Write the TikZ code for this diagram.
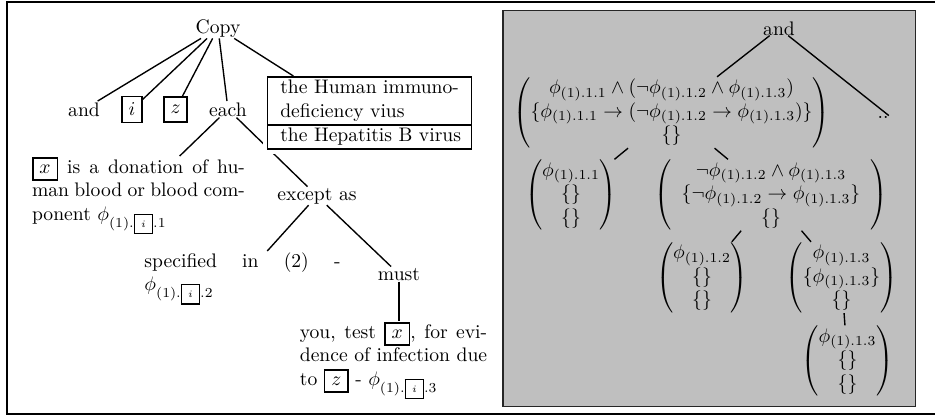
\documentclass[tikz,border=0pt]{standalone}
\usepackage{amsmath}
\usetikzlibrary{shapes.multipart,calc}
\newcommand{\mybox}[1]{\fbox{$#1$}}
\newcommand{\mysbox}[1]{{\setlength{\fboxsep}{2.8pt}\fbox{$\scriptscriptstyle #1$}}}
\setlength{\fboxrule}{0.8pt}
\setlength{\fboxsep}{3pt}
\begin{document}
\begin{tikzpicture}[x=0.51pt,y=-0.51pt,
  edge/.style={line width=0.7pt},
  word/.style={inner sep=0.5pt},
  boxed/.style={draw, line width=0.9pt, inner sep=3.33pt, minimum height=12.7pt},
  para/.style={inner sep=0.5pt, align=justify, anchor=north},
  mat/.style={inner sep=0pt},
  splitbox/.style={draw, line width=0.9pt, fill=white, rectangle split,
    rectangle split parts=2, text width=97pt, align=left, inner xsep=3.5pt,
    inner ysep=1.3pt, anchor=north, preaction={draw=white, line width=5pt}},
]
\useasboundingbox (0,0) rectangle (935,416);
% outer frame
\draw[line width=0.8pt] (940,2) -- (7,2) -- (7,414) -- (940,414);

% left tree
\node[word, anchor=base] (copy) at (218,33) {Copy};
\node[word, anchor=base] (and) at (84,116) {and};
\node[boxed] (i) at (132,109.5) {$i$};
\node[boxed] (z) at (175.5,109.5) {$z$};
\node[word, anchor=base] (each) at (228,116) {each};
\node[para, text width=108.6pt] (p1) at (138.5,156)
  {\mybox{x} is a donation of hu-\linebreak man blood or blood com-\linebreak ponent $\phi_{(1).\mysbox{i}.1}$};
\node[word, anchor=base] (exc) at (317,200) {except as};
\node[para, text width=100pt] (p2) at (242.5,251)
  {specified in (2) -\linebreak $\phi_{(1).\mysbox{i}.2}$};
\node[word, anchor=base] (must) at (399,280) {must};
\node[para, text width=95.5pt] (p3) at (393.5,321)
  {you, test \mybox{x}, for evi-\linebreak dence of infection due\linebreak to \mybox{z} - $\phi_{(1).\mysbox{i}.3}$};

\draw[edge] (copy) -- (and);
\draw[edge] (copy) -- (i);
\draw[edge] (copy) -- (z);
\draw[edge] (copy) -- (each);
\draw[edge] (each) -- (p1);
\draw[edge] (each) -- (exc);
\node[splitbox] (hiv) at (369.5,76)
  {\hspace*{3pt}the Human immuno-\\\hspace*{3pt}deficiency vius\nodepart{two}\hspace*{3pt}the Hepatitis B virus};
\draw[edge] (copy) -- ($(hiv.north west)!0.13!(hiv.north east)$);
\draw[edge] (exc) -- (p2);
\draw[edge] (exc) -- (must);
\draw[edge] (must) -- (must |- p3.north);

% right panel
\draw[line width=0.7pt, draw=black!85, fill=gray!50] (503,10.7) rectangle (915.7,406.7);
\node[mat, anchor=base] (rand) at (779,35) {and};
\node[mat] (big) at (671.5,112.5)
  {$\begin{pmatrix} \phi_{(1).1.1}\wedge(\neg\phi_{(1).1.2}\wedge\phi_{(1).1.3})\\
   \{\phi_{(1).1.1}\rightarrow(\neg\phi_{(1).1.2}\rightarrow\phi_{(1).1.3})\}\\ \{\} \end{pmatrix}$};
\node[mat] (dots) at (883,117) {..};
\node[mat] (s1) at (571,195)
  {$\begin{pmatrix}\phi_{(1).1.1}\\ \{\}\\ \{\}\end{pmatrix}$};
\node[mat] (m2) at (771,195)
  {$\left(\begin{array}{c} \neg\phi_{(1).1.2}\wedge\phi_{(1).1.3}\\
   \{\neg\phi_{(1).1.2}\rightarrow\phi_{(1).1.3}\}\\ \{\}\end{array}\right)$};
\node[mat] (m3) at (702,277.5)
  {$\begin{pmatrix}\phi_{(1).1.2}\\ \{\}\\ \{\}\end{pmatrix}$};
\node[mat] (m4) at (841.5,277.5)
  {$\begin{pmatrix}\phi_{(1).1.3}\\ \{\phi_{(1).1.3}\}\\ \{\}\end{pmatrix}$};
\node[mat] (m5) at (847.5,361)
  {$\begin{pmatrix}\phi_{(1).1.3}\\ \{\}\\ \{\}\end{pmatrix}$};

\draw[edge] (rand) -- (big);
\draw[edge] (rand) -- (dots.north east);
\draw[edge] (big) -- (s1);
\draw[edge] (big) -- (m2);
\draw[edge] (m2) -- (m3);
\draw[edge] (m2) -- (m4);
\draw[edge] (m4) -- (m5);
\end{tikzpicture}
\end{document}
